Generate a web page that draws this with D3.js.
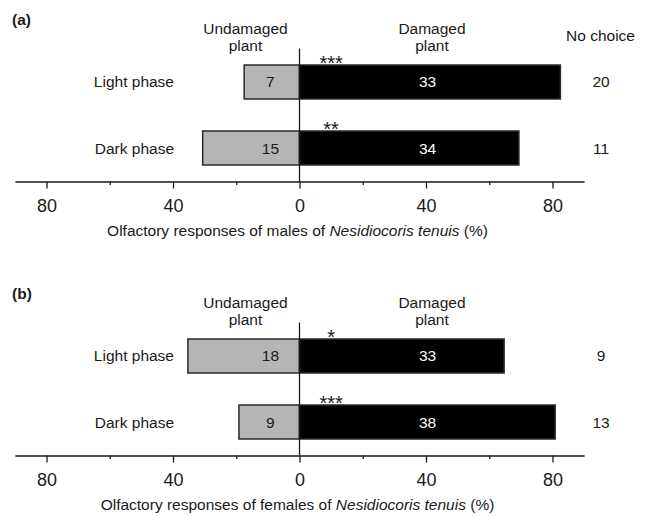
<!DOCTYPE html>
<html>
<head>
<meta charset="utf-8">
<script src="https://cdn.jsdelivr.net/npm/d3@7"></script>
<style>
  html, body { margin: 0; padding: 0; background: #fff; }
  svg { display: block; font-family: "Liberation Sans", Arial, sans-serif; }
</style>
</head>
<body>
<svg id="chart" width="646" height="516"></svg>
<script>
// Phases tested in the olfactometer
const categories = ["Light phase", "Dark phase"];

// Males: number of insects choosing each odour source
const malesUndamaged = [7, 15];
const malesDamaged = [33, 34];
const malesNoChoice = [20, 11];
const malesSignificance = ["***", "**"];

// Females
const femalesUndamaged = [18, 9];
const femalesDamaged = [33, 38];
const femalesNoChoice = [9, 13];
const femalesSignificance = ["*", "***"];

const majorTicks = [-80, -40, 0, 40, 80];
const minorTicks = [-60, -20, 20, 60];

const panels = [
  { tag: "(a)", sex: "males", top: 0, undamaged: malesUndamaged, damaged: malesDamaged,
    noChoice: malesNoChoice, sig: malesSignificance, showNoChoiceHeader: true },
  { tag: "(b)", sex: "females", top: 274, undamaged: femalesUndamaged, damaged: femalesDamaged,
    noChoice: femalesNoChoice, sig: femalesSignificance, showNoChoiceHeader: false }
];

const ink = "#1a1a1a";
const svg = d3.select("#chart");

// Percent scale: undamaged to the left (negative), damaged to the right
const x = d3.scaleLinear().domain([-90, 90]).range([14.9, 584.1]);

panels.forEach(p => {
  const g = svg.append("g").attr("transform", `translate(0,${p.top})`);
  const axisY = 181.5;
  const y = d3.scaleBand().domain(categories).range([48.5, axisY]).paddingInner(0.485).paddingOuter(0.25);

  const rows = categories.map((c, i) => {
    const total = p.undamaged[i] + p.damaged[i];
    return {
      cat: c,
      u: p.undamaged[i], d: p.damaged[i], n: p.noChoice[i], sig: p.sig[i],
      uPct: p.undamaged[i] / total * 100,
      dPct: p.damaged[i] / total * 100
    };
  });

  // Undamaged plant bars (grey, extending left)
  g.selectAll("rect.und").data(rows).join("rect")
    .attr("class", "und")
    .attr("x", d => x(-d.uPct)).attr("y", d => y(d.cat))
    .attr("width", d => x(0) - x(-d.uPct)).attr("height", y.bandwidth())
    .attr("fill", "#b5b5b5").attr("stroke", "#2a2a2a").attr("stroke-width", 1.5);

  // Damaged plant bars (black, extending right)
  g.selectAll("rect.dam").data(rows).join("rect")
    .attr("class", "dam")
    .attr("x", x(0)).attr("y", d => y(d.cat))
    .attr("width", d => x(d.dPct) - x(0)).attr("height", y.bandwidth())
    .attr("fill", "#000").attr("stroke", "#2a2a2a").attr("stroke-width", 1.5);

  // Zero line
  g.append("line")
    .attr("x1", x(0)).attr("x2", x(0)).attr("y1", 48.5).attr("y2", axisY)
    .attr("stroke", ink).attr("stroke-width", 1.3);

  // Counts inside the bars
  g.selectAll("text.uval").data(rows).join("text")
    .attr("class", "uval")
    .attr("x", x(-9.2)).attr("y", d => y(d.cat) + y.bandwidth() / 2 + 5.5)
    .attr("text-anchor", "middle").attr("font-size", 15.5).attr("fill", ink)
    .text(d => d.u);
  g.selectAll("text.dval").data(rows).join("text")
    .attr("class", "dval")
    .attr("x", x(40.5)).attr("y", d => y(d.cat) + y.bandwidth() / 2 + 5.5)
    .attr("text-anchor", "middle").attr("font-size", 15.5).attr("fill", "#fff")
    .text(d => d.d);

  // Significance stars
  g.selectAll("text.sig").data(rows).join("text")
    .attr("class", "sig")
    .attr("x", x(10)).attr("y", d => y(d.cat) + 4.5)
    .attr("text-anchor", "middle").attr("font-size", 20).attr("fill", ink)
    .text(d => d.sig);

  // Category labels
  g.selectAll("text.cat").data(rows).join("text")
    .attr("class", "cat")
    .attr("x", 174).attr("y", d => y(d.cat) + y.bandwidth() / 2 + 5.5)
    .attr("text-anchor", "end").attr("font-size", 15.5).attr("fill", ink)
    .text(d => d.cat);

  // No-choice counts
  g.selectAll("text.nc").data(rows).join("text")
    .attr("class", "nc")
    .attr("x", 601).attr("y", d => y(d.cat) + y.bandwidth() / 2 + 5.5)
    .attr("text-anchor", "middle").attr("font-size", 15.5).attr("fill", ink)
    .text(d => d.n);

  // Column headers
  const header = (cx, lines) => {
    const t = g.append("text").attr("x", cx).attr("y", 34)
      .attr("text-anchor", "middle").attr("font-size", 15.5).attr("fill", ink);
    lines.forEach((l, i) => t.append("tspan").attr("x", cx).attr("dy", i ? 17 : 0).text(l));
  };
  header(245.5, ["Undamaged", "plant"]);
  header(432, ["Damaged", "plant"]);
  if (p.showNoChoiceHeader) {
    g.append("text").attr("x", 600.5).attr("y", 41)
      .attr("text-anchor", "middle").attr("font-size", 15.5).attr("fill", ink)
      .text("No choice");
  }

  // Panel tag
  g.append("text").attr("x", 12).attr("y", 25)
    .attr("font-size", 15.5).attr("font-weight", "bold").attr("fill", ink)
    .text(p.tag);

  // Minor ticks
  const minorAxis = g.append("g").attr("transform", `translate(0,${axisY})`)
    .call(d3.axisBottom(x).tickValues(minorTicks).tickSize(3.5).tickFormat(""));
  minorAxis.select(".domain").remove();
  minorAxis.selectAll("line").attr("stroke", ink).attr("stroke-width", 1.3);

  // Major axis
  const axis = g.append("g").attr("transform", `translate(0,${axisY})`)
    .call(d3.axisBottom(x).tickValues(majorTicks).tickSize(7).tickSizeOuter(0)
      .tickPadding(11).tickFormat(d => Math.abs(d)));
  axis.select(".domain").attr("stroke", ink).attr("stroke-width", 1.5);
  axis.selectAll("line").attr("stroke", ink).attr("stroke-width", 1.3);
  axis.selectAll("text").attr("font-size", 18).attr("fill", ink)
    .attr("font-family", "'Liberation Sans', Arial, sans-serif");

  // Axis title
  const title = g.append("text").attr("x", 297.5).attr("y", 236)
    .attr("text-anchor", "middle").attr("font-size", 15.5).attr("fill", ink);
  title.append("tspan").text(`Olfactory responses of ${p.sex} of `);
  title.append("tspan").attr("font-style", "italic").text("Nesidiocoris tenuis");
  title.append("tspan").text(" (%)");
});
</script>
</body>
</html>
